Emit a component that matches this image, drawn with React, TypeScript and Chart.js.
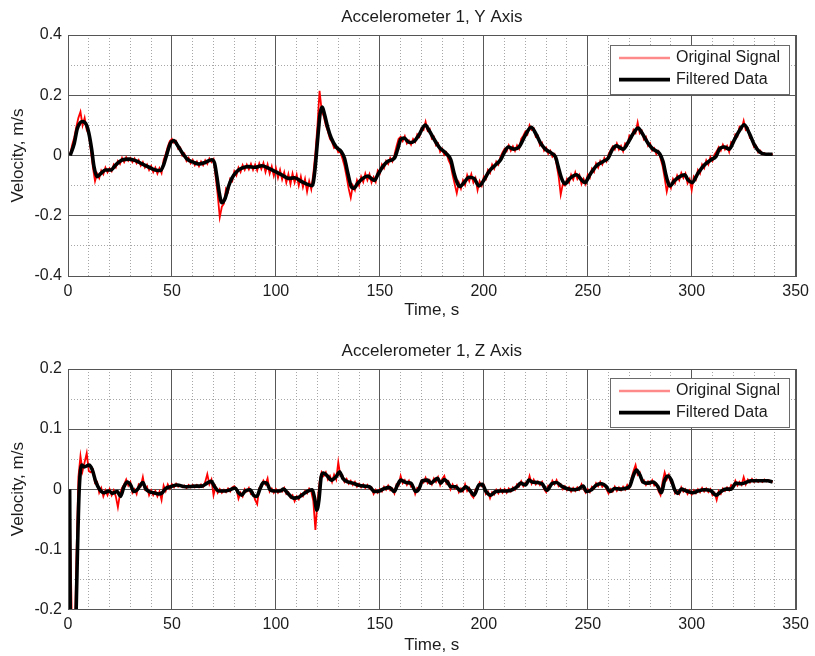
import { useEffect, useRef } from 'react';
import { Chart, registerables } from 'chart.js';

Chart.register(...registerables);

const FONT = "'Liberation Sans', Arial, Helvetica, sans-serif";

// ---------- labels ----------
const Y_TITLE = 'Accelerometer 1, Y Axis';
const Z_TITLE = 'Accelerometer 1, Z Axis';
const X_LABEL = 'Time, s';
const Y_LABEL = 'Velocity, m/s';
const SERIES_NAMES = ['Original Signal', 'Filtered Data'];
const X_TICKS = [0, 50, 100, 150, 200, 250, 300, 350];
const Y_TICKS_TOP = [-0.4, -0.2, 0, 0.2, 0.4];
const Y_TICKS_BOTTOM = [-0.2, -0.1, 0, 0.1, 0.2];

// original signal sampled every second starting at t = 1 s
const ORIG_T_START = 1;
const ORIG_T_STEP = 1;

// ---------- Accelerometer 1, Y axis ----------
const Y_ORIG_V = [
  0.002, 0.035, 0.06, 0.095, 0.125, 0.145, 0.1, 0.125, 0.085, 0.07,
  0.015, -0.04, -0.085, -0.06, -0.075, -0.05, -0.062, -0.04, -0.056, -0.042,
  -0.052, -0.03, -0.04, -0.018, -0.028, -0.008, -0.022, -0.006, -0.018, -0.008,
  -0.022, -0.01, -0.026, -0.015, -0.034, -0.022, -0.04, -0.03, -0.048, -0.035,
  -0.055, -0.04, -0.06, -0.042, -0.058, -0.015, 0.005, 0.03, 0.048, 0.055,
  0.042, 0.048, 0.022, 0.026, 0.0, 0.006, -0.018, -0.008, -0.026, -0.015,
  -0.032, -0.02, -0.036, -0.02, -0.032, -0.016, -0.028, -0.01, -0.022, -0.012,
  -0.07, -0.13, -0.205, -0.17, -0.16, -0.11, -0.12, -0.078, -0.085, -0.052,
  -0.066, -0.04, -0.055, -0.032, -0.048, -0.03, -0.046, -0.028, -0.048, -0.03,
  -0.05, -0.026, -0.045, -0.025, -0.055, -0.03, -0.06, -0.036, -0.068, -0.042,
  -0.074, -0.048, -0.08, -0.056, -0.09, -0.062, -0.095, -0.06, -0.09, -0.064,
  -0.1, -0.07, -0.105, -0.078, -0.12, -0.085, -0.112, -0.06, 0.01, 0.1,
  0.215, 0.15, 0.13, 0.1, 0.08, 0.055, 0.045, 0.025, 0.03, 0.01,
  0.012, -0.01, -0.035, -0.07, -0.11, -0.14, -0.1, -0.115, -0.082, -0.1,
  -0.07, -0.088, -0.06, -0.082, -0.062, -0.09, -0.072, -0.088, -0.05, -0.06,
  -0.03, -0.042, -0.018, -0.028, -0.008, -0.02, 0.002, 0.03, 0.055, 0.062,
  0.048, 0.064, 0.04, 0.05, 0.036, 0.055, 0.045, 0.07, 0.062, 0.09,
  0.085, 0.112, 0.082, 0.088, 0.056, 0.062, 0.034, 0.04, 0.012, 0.022,
  0.002, 0.01, -0.015, -0.03, -0.065, -0.095, -0.125, -0.09, -0.11, -0.082,
  -0.098, -0.065, -0.085, -0.062, -0.09, -0.075, -0.115, -0.085, -0.1, -0.07,
  -0.078, -0.048, -0.058, -0.03, -0.044, -0.02, -0.03, -0.005, 0.01, 0.022,
  0.014, 0.034, 0.016, 0.03, 0.015, 0.034, 0.022, 0.055, 0.066, 0.08,
  0.07, 0.1, 0.085, 0.09, 0.062, 0.066, 0.034, 0.042, 0.016, 0.026,
  0.006, 0.016, -0.004, 0.004, -0.03, -0.07, -0.13, -0.095, -0.1, -0.078,
  -0.09, -0.064, -0.08, -0.056, -0.078, -0.065, -0.095, -0.078, -0.095, -0.064,
  -0.074, -0.044, -0.055, -0.026, -0.04, -0.018, -0.03, -0.008, -0.02, 0.004,
  0.018, 0.03, 0.02, 0.04, 0.02, 0.032, 0.014, 0.04, 0.034, 0.066,
  0.058, 0.085, 0.075, 0.11, 0.074, 0.082, 0.054, 0.062, 0.032, 0.04,
  0.016, 0.024, 0.004, 0.014, -0.01, -0.035, -0.075, -0.12, -0.088, -0.108,
  -0.078, -0.092, -0.066, -0.082, -0.058, -0.075, -0.06, -0.092, -0.078, -0.115,
  -0.07, -0.08, -0.048, -0.06, -0.03, -0.042, -0.016, -0.03, -0.005, -0.018,
  0.004, 0.014, 0.028, 0.016, 0.036, 0.02, 0.032, 0.012, 0.045, 0.04,
  0.07, 0.064, 0.095, 0.088, 0.115, 0.085, 0.09, 0.058, 0.056, 0.028,
  0.032, 0.01, 0.016, 0.004, 0.008, 0.002, 0.006, 0.003, 0.005,
];

const Y_FILT_T = [
  1, 3, 4.5, 7, 9, 10, 11.4, 12.5, 14, 15.7,
  18, 20.5, 23, 26, 29.3, 32.5, 35.7, 39, 42, 44.5,
  46, 47.7, 49.3, 51, 52.5, 55, 57.3, 60.5, 63, 66,
  69.2, 70.5, 71.6, 72.8, 74, 75.6, 77.2, 78.8, 81.2, 83.6,
  86.8, 90, 93.2, 96.4, 99.6, 102.8, 106, 109, 112.4, 114.6,
  117.5, 118.6, 120.2, 121.3, 122.3, 123.4, 125, 126.6, 129, 131.4,
  133, 134.6, 136.2, 137.3, 139.4, 141.8, 144.2, 145.8, 147.4, 149,
  151.4, 153.7, 157, 158.5, 160.1, 161.7, 164.1, 166.5, 168.9, 171.8,
  173.7, 176.1, 178.5, 181.7, 184.1, 185.7, 187.3, 188.4, 190.5, 192.9,
  195.3, 197.7, 200.1, 202.5, 205.7, 208.1, 209.7, 211.8, 214.5, 216.9,
  220.1, 222.8, 224.9, 227.3, 229.6, 232.5, 234.5, 235.8, 237.4, 239,
  241.4, 244.6, 247, 248.6, 251, 254.2, 257.4, 259.8, 261.9, 263.8,
  267, 269.4, 271.8, 274.2, 276.6, 279, 281.4, 284.6, 286.2, 287.8,
  289.4, 291.8, 294.2, 296.6, 298.2, 300.2, 303, 306.2, 309.3, 311.7,
  313.3, 315.7, 318.1, 320.5, 323, 325.3, 327.7, 330.1, 332.5, 335.7,
  338.9,
];
const Y_FILT_V = [
  0, 0.04, 0.09, 0.113, 0.1, 0.075, 0.02, -0.037, -0.07, -0.06,
  -0.048, -0.048, -0.031, -0.015, -0.012, -0.017, -0.028, -0.039, -0.048, -0.05,
  -0.031, 0.008, 0.041, 0.05, 0.036, 0.008, -0.012, -0.023, -0.028, -0.023,
  -0.014, -0.026, -0.07, -0.126, -0.157, -0.142, -0.103, -0.076, -0.053, -0.042,
  -0.037, -0.039, -0.034, -0.042, -0.053, -0.064, -0.076, -0.074, -0.087, -0.094,
  -0.1, -0.059, 0.063, 0.141, 0.161, 0.136, 0.091, 0.058, 0.028, 0.013,
  -0.009, -0.059, -0.103, -0.109, -0.092, -0.076, -0.068, -0.076, -0.083, -0.064,
  -0.037, -0.02, -0.009, 0.019, 0.054, 0.058, 0.043, 0.047, 0.069, 0.101,
  0.083, 0.054, 0.028, 0.008, -0.014, -0.059, -0.092, -0.103, -0.09, -0.072,
  -0.076, -0.101, -0.081, -0.053, -0.031, -0.014, 0.008, 0.028, 0.021, 0.028,
  0.069, 0.094, 0.074, 0.041, 0.021, 0.008, -0.005, -0.037, -0.076, -0.094,
  -0.076, -0.064, -0.081, -0.09, -0.064, -0.034, -0.02, -0.009, 0.021, 0.032,
  0.021, 0.043, 0.072, 0.091, 0.069, 0.041, 0.021, 0.006, -0.02, -0.07,
  -0.101, -0.083, -0.07, -0.064, -0.081, -0.09, -0.059, -0.031, -0.014, -0.003,
  0.021, 0.028, 0.021, 0.052, 0.083, 0.102, 0.074, 0.036, 0.013, 0.004,
  0.004,
];

// ---------- Accelerometer 1, Z axis ----------
const Z_ORIG_V = [
  -0.06, -0.25, -0.3, -0.12, 0.02, 0.055, 0.03, 0.045, 0.06, 0.03,
  0.028, 0.032, 0.01, 0.012, -0.006, 0.002, -0.012, -0.002, -0.01, 0.0,
  -0.01, -0.002, -0.012, -0.03, -0.008, 0.002, 0.008, 0.016, 0.006, 0.012,
  -0.006, 0.0, -0.008, 0.008, 0.005, 0.02, 0.0, 0.004, -0.01, -0.002,
  -0.01, -0.003, -0.012, -0.004, -0.018, 0.006, -0.003, 0.008, 0.001, 0.008,
  0.003, 0.009, 0.004, 0.007, 0.003, 0.006, 0.002, 0.007, 0.003, 0.007,
  0.003, 0.007, 0.003, 0.008, 0.004, 0.012, 0.025, 0.008, 0.016, -0.01,
  0.004, -0.006, 0.0, -0.006, -0.001, -0.005, 0.001, -0.004, 0.003, 0.005,
  0.0, -0.016, -0.006, -0.012, 0.0, -0.004, 0.002, -0.008, -0.006, -0.018,
  -0.025, 0.002, 0.004, 0.014, 0.008, 0.018, -0.004, 0.001, -0.006, 0.0,
  -0.006, -0.001, -0.004, 0.002, -0.008, -0.005, -0.014, -0.01, -0.02, -0.012,
  -0.017, -0.008, -0.012, -0.003, -0.007, 0.001, -0.004, -0.02, -0.068, -0.02,
  0.012, 0.028, 0.022, 0.028, 0.016, 0.022, 0.012, 0.024, 0.016, 0.045,
  0.022, 0.023, 0.012, 0.017, 0.009, 0.014, 0.007, 0.012, 0.004, 0.009,
  0.003, 0.008, 0.002, 0.007, 0.001, 0.003, -0.008, -0.001, -0.006, 0.0,
  -0.004, 0.004, -0.001, 0.006, -0.002, 0.001, -0.007, 0.008, 0.006, 0.022,
  0.01, 0.015, 0.007, 0.014, 0.004, 0.006, -0.008, 0.002, 0.0, 0.014,
  0.011, 0.019, 0.01, 0.015, 0.008, 0.018, 0.012, 0.02, 0.007, 0.017,
  0.022, 0.009, 0.013, 0.0, 0.008, 0.001, 0.006, -0.005, 0.001, -0.004,
  0.008, -0.003, 0.002, -0.01, -0.014, 0.0, 0.001, 0.011, 0.005, 0.007,
  -0.008, -0.004, -0.015, -0.005, -0.009, -0.001, -0.007, 0.0, -0.006, 0.0,
  -0.006, 0.001, -0.004, 0.003, -0.001, 0.008, 0.005, 0.013, 0.005, 0.011,
  0.009, 0.022, 0.009, 0.016, 0.008, 0.013, 0.007, 0.012, 0.0, -0.005,
  0.006, 0.004, 0.014, 0.008, 0.015, 0.005, 0.008, 0.0, 0.005, -0.002,
  0.003, -0.004, 0.002, -0.003, 0.003, -0.001, 0.008, 0.0, -0.006, 0.0,
  -0.005, 0.004, 0.001, 0.01, 0.005, 0.012, 0.004, 0.008, 0.0, -0.007,
  0.0, -0.004, 0.004, -0.003, 0.003, -0.002, 0.004, -0.001, 0.007, 0.002,
  0.018, 0.03, 0.04, 0.024, 0.028, 0.012, 0.015, 0.007, 0.013, 0.008,
  0.015, 0.006, 0.009, -0.003, -0.01, 0.012, 0.028, 0.016, 0.024, 0.011,
  0.009, -0.007, -0.003, -0.008, 0.003, -0.004, 0.0, -0.008, -0.002, -0.009,
  -0.002, -0.007, 0.0, -0.005, 0.002, -0.004, 0.001, -0.005, 0.0, -0.01,
  -0.006, -0.018, -0.003, -0.008, 0.001, -0.003, 0.003, -0.002, 0.007, 0.004,
  0.014, 0.006, 0.012, 0.007, 0.02, 0.008, 0.016, 0.011, 0.017, 0.012,
  0.016, 0.012, 0.015, 0.012, 0.016, 0.013, 0.015, 0.012, 0.013,
];

const Z_FILT_T = [
  0.8, 1.3, 2.8, 5.4, 6.6, 7.8, 10.1, 11.7, 13.3, 15.3,
  17.3, 19.7, 21.3, 23.7, 25.3, 26.9, 28.5, 30.1, 31.7, 33.3,
  34.9, 36, 37.3, 38.9, 41.3, 43.7, 45.3, 46.9, 49.3, 52.5,
  56.5, 61.3, 64.5, 66.9, 68.9, 70.5, 72.5, 75.6, 78, 80.4,
  82, 83.6, 85.2, 87.6, 89.2, 90.8, 92.4, 94, 95.6, 97.2,
  99.6, 102, 103.6, 106, 108.4, 110.8, 113.2, 115.6, 117.5, 118.6,
  119.7, 120.7, 121.8, 122.9, 125, 126.6, 129, 130.6, 132.2, 134.6,
  137, 139.4, 142.6, 145, 147.4, 149.8, 152.2, 154.5, 156.9, 158.5,
  160.1, 162.5, 164.9, 167.3, 168.9, 170.5, 172.9, 174.5, 176.1, 177.7,
  179.3, 180.9, 182.5, 184.1, 186.5, 188.9, 191.3, 193.7, 195.3, 197.7,
  199.3, 200.9, 203.3, 205.7, 208.1, 211.3, 213.7, 216.1, 217.7, 220.1,
  221.7, 223.3, 225.7, 228, 230.4, 232.7, 235, 237.4, 239.8, 243,
  245.4, 247.8, 249.4, 251.8, 254.2, 256.6, 259, 260.6, 263, 265.4,
  267.8, 270.2, 271.8, 273.4, 275, 276.6, 279, 281.4, 283.8, 285.4,
  287, 288.6, 290.2, 291.8, 293.4, 295, 297.4, 300.6, 303, 306.2,
  309.3, 311.7, 314.1, 316.5, 318.9, 321.3, 323.7, 326.1, 328.5, 332.5,
  336.5, 338.9,
];
const Z_FILT_V = [
  0, -0.3, -0.3, 0, 0.04, 0.037, 0.04, 0.032, 0.013, -0.001,
  -0.006, -0.003, -0.007, -0.004, -0.012, 0.004, 0.012, 0.007, -0.004, -0.001,
  0.007, 0.011, 0.001, -0.004, -0.006, -0.008, -0.006, 0.001, 0.004, 0.007,
  0.004, 0.005, 0.005, 0.01, 0.013, 0.004, -0.003, -0.003, -0.001, 0.002,
  -0.006, -0.01, -0.003, -0.001, -0.01, -0.012, 0.001, 0.011, 0.01, -0.001,
  -0.003, -0.003, 0, -0.008, -0.015, -0.014, -0.008, -0.003, -0.001, -0.015,
  -0.035, -0.018, 0.021, 0.027, 0.021, 0.015, 0.021, 0.029, 0.018, 0.012,
  0.01, 0.007, 0.005, 0.004, -0.004, -0.003, 0.001, 0.003, -0.004, 0.007,
  0.015, 0.011, 0.01, -0.004, 0.001, 0.014, 0.015, 0.01, 0.014, 0.018,
  0.01, 0.016, 0.012, 0.004, 0.004, -0.003, 0.004, -0.004, -0.01, 0.007,
  0.008, -0.003, -0.01, -0.004, -0.003, -0.003, -0.001, 0.004, 0.01, 0.007,
  0.015, 0.012, 0.011, 0.009, -0.002, 0.009, 0.011, 0.005, 0.001, -0.001,
  0, 0.005, -0.004, -0.001, 0.007, 0.009, 0.004, -0.004, 0.001, 0,
  0.001, 0.005, 0.021, 0.032, 0.024, 0.012, 0.01, 0.012, 0.004, -0.006,
  0.015, 0.022, 0.015, -0.001, -0.007, 0, -0.003, -0.006, -0.003, -0.001,
  -0.003, -0.01, -0.004, 0, 0, 0.01, 0.009, 0.011, 0.014, 0.014,
  0.014, 0.012,
];

// ---------- styling ----------
const MAJOR_GRID = '#585858';
const MINOR_GRID = '#a6a6a6';
const TEXT = '#1c1c1c';

const near = (v: number, step: number) => Math.abs(v / step - Math.round(v / step)) < 1e-6;

const framePlugin = {
  id: 'frame',
  afterDatasetsDraw(chart: any) {
    const { ctx, chartArea: a } = chart;
    ctx.save();
    ctx.strokeStyle = '#555';
    ctx.lineWidth = 1;
    ctx.strokeRect(Math.round(a.left) + 0.5, Math.round(a.top) + 0.5, Math.round(a.right - a.left), Math.round(a.bottom - a.top));
    ctx.restore();
  },
};

const boxLegendPlugin = {
  id: 'boxLegend',
  afterDraw(chart: any, _args: any, opts: any) {
    const { ctx, chartArea: a } = chart;
    const w = 179;
    const h = 49;
    const x0 = Math.round(a.right - 7 - w);
    const y0 = Math.round(a.top + opts.offsetTop);
    ctx.save();
    ctx.fillStyle = '#fff';
    ctx.fillRect(x0, y0, w, h);
    ctx.strokeStyle = '#6a6a6a';
    ctx.lineWidth = 1;
    ctx.strokeRect(x0 + 0.5, y0 + 0.5, w, h);
    ctx.font = `16px ${FONT}`;
    ctx.textBaseline = 'middle';
    chart.data.datasets.forEach((ds: any, i: number) => {
      const y = y0 + 13 + i * 21.6;
      ctx.strokeStyle = ds.legendColor;
      ctx.lineWidth = ds.legendWidth;
      ctx.beginPath();
      ctx.moveTo(x0 + 9, y);
      ctx.lineTo(x0 + 60, y);
      ctx.stroke();
      ctx.fillStyle = TEXT;
      ctx.fillText(ds.label, x0 + 66, y);
    });
    ctx.restore();
  },
};

type PlotSpec = {
  title: string;
  origV: number[];
  filtT: number[];
  filtV: number[];
  yMin: number;
  yMax: number;
  yMinor: number;
  yMajor: number;
  yTickLabels: number[];
  titleAreaHeight: number;
  titlePadTop: number;
  xAxisHeight: number;
  xTickPad: number;
  xTitlePadBottom: number;
  legendTop: number;
};

function buildConfig(s: PlotSpec): any {
  const orig = s.origV.map((v, i) => ({ x: ORIG_T_START + i * ORIG_T_STEP, y: v }));
  const filt = s.filtT.map((t, i) => ({ x: t, y: s.filtV[i] }));
  const fmtY = (v: number) => {
    const hit = s.yTickLabels.find((t) => Math.abs(t - v) < 1e-6);
    if (hit === undefined) return '';
    return hit === 0 ? '0' : hit.toFixed(1);
  };
  return {
    type: 'line',
    data: {
      datasets: [
        {
          label: SERIES_NAMES[0],
          data: orig,
          borderColor: '#ff0000',
          borderWidth: 1.8,
          pointRadius: 0,
          tension: 0,
          order: 1,
          legendColor: '#ff8a8a',
          legendWidth: 2.5,
        },
        {
          label: SERIES_NAMES[1],
          data: filt,
          borderColor: '#000000',
          borderWidth: 3.6,
          pointRadius: 0,
          cubicInterpolationMode: 'monotone',
          order: 0,
          legendColor: '#000000',
          legendWidth: 3.6,
        },
      ],
    },
    options: {
      responsive: false,
      animation: false,
      events: [],
      layout: { padding: { left: 0, right: 17, top: 0, bottom: 0 } },
      plugins: {
        legend: { display: false },
        tooltip: { enabled: false },
        title: { display: false },
        boxLegend: { offsetTop: s.legendTop },
      },
      scales: {
        x: {
          type: 'linear',
          min: 0,
          max: 350,
          afterFit: (scale: any) => {
            scale.height = s.xAxisHeight;
          },
          ticks: {
            stepSize: 10,
            autoSkip: false,
            maxRotation: 0,
            padding: s.xTickPad,
            color: TEXT,
            font: { family: FONT, size: 16 },
            callback: (v: number) => (X_TICKS.includes(Math.round(v)) && near(v, 50) ? String(Math.round(v)) : ''),
          },
          grid: {
            drawTicks: false,
            lineWidth: 1,
            color: (c: any) => (c.tick && near(c.tick.value, 50) ? MAJOR_GRID : MINOR_GRID),
          },
          border: {
            display: false,
            dash: (c: any) => (c.tick && !near(c.tick.value, 50) ? [1, 2] : []),
          },
          title: {
            display: true,
            text: X_LABEL,
            color: TEXT,
            font: { family: FONT, size: 17 },
            padding: { top: 0, bottom: s.xTitlePadBottom },
          },
        },
        xTop: {
          type: 'linear',
          position: 'top',
          min: 0,
          max: 350,
          afterFit: (scale: any) => {
            scale.height = s.titleAreaHeight;
          },
          ticks: { display: false },
          grid: { display: false, drawTicks: false },
          border: { display: false },
          title: {
            display: true,
            text: s.title,
            color: TEXT,
            font: { family: FONT, size: 17 },
            padding: { top: s.titlePadTop, bottom: 0 },
          },
        },
        y: {
          type: 'linear',
          min: s.yMin,
          max: s.yMax,
          afterFit: (scale: any) => {
            scale.width = 68;
          },
          ticks: {
            stepSize: s.yMinor,
            autoSkip: false,
            padding: 6,
            color: TEXT,
            font: { family: FONT, size: 16 },
            callback: (v: number) => fmtY(v),
          },
          grid: {
            drawTicks: false,
            lineWidth: 1,
            color: (c: any) => (c.tick && near(c.tick.value, s.yMajor) ? MAJOR_GRID : MINOR_GRID),
          },
          border: {
            display: false,
            dash: (c: any) => (c.tick && !near(c.tick.value, s.yMajor) ? [1, 2] : []),
          },
          title: {
            display: true,
            text: Y_LABEL,
            color: TEXT,
            font: { family: FONT, size: 17 },
            padding: { top: 8.3, bottom: 0 },
          },
        },
      },
    },
    plugins: [framePlugin, boxLegendPlugin],
  };
}

function Plot({ spec, top, height }: { spec: PlotSpec; top: number; height: number }) {
  const ref = useRef<HTMLCanvasElement>(null);
  useEffect(() => {
    if (!ref.current) return;
    const chart = new Chart(ref.current, buildConfig(spec));
    return () => chart.destroy();
  }, [spec]);
  return (
    <canvas
      ref={ref}
      width={815}
      height={height}
      style={{ position: 'absolute', left: 0, top, width: 815, height, display: 'block' }}
    />
  );
}

const TOP_SPEC: PlotSpec = {
  title: Y_TITLE,
  origV: Y_ORIG_V,
  filtT: Y_FILT_T,
  filtV: Y_FILT_V,
  yMin: -0.4,
  yMax: 0.4,
  yMinor: 0.1,
  yMajor: 0.2,
  yTickLabels: Y_TICKS_TOP,
  titleAreaHeight: 35,
  titlePadTop: 6.8,
  xAxisHeight: 52,
  xTickPad: 6,
  xTitlePadBottom: 7,
  legendTop: 10,
};

const BOTTOM_SPEC: PlotSpec = {
  title: Z_TITLE,
  origV: Z_ORIG_V,
  filtT: Z_FILT_T,
  filtV: Z_FILT_V,
  yMin: -0.2,
  yMax: 0.2,
  yMinor: 0.05,
  yMajor: 0.1,
  yTickLabels: Y_TICKS_BOTTOM,
  titleAreaHeight: 41,
  titlePadTop: 12.8,
  xAxisHeight: 46.7,
  xTickPad: 6,
  xTitlePadBottom: 0.5,
  legendTop: 9,
};

export default function App() {
  return (
    <div style={{ position: 'fixed', left: 0, top: 0, width: 815, height: 656, background: '#fff', overflow: 'hidden' }}>
      <Plot spec={TOP_SPEC} top={0} height={328} />
      <Plot spec={BOTTOM_SPEC} top={328} height={328} />
    </div>
  );
}
